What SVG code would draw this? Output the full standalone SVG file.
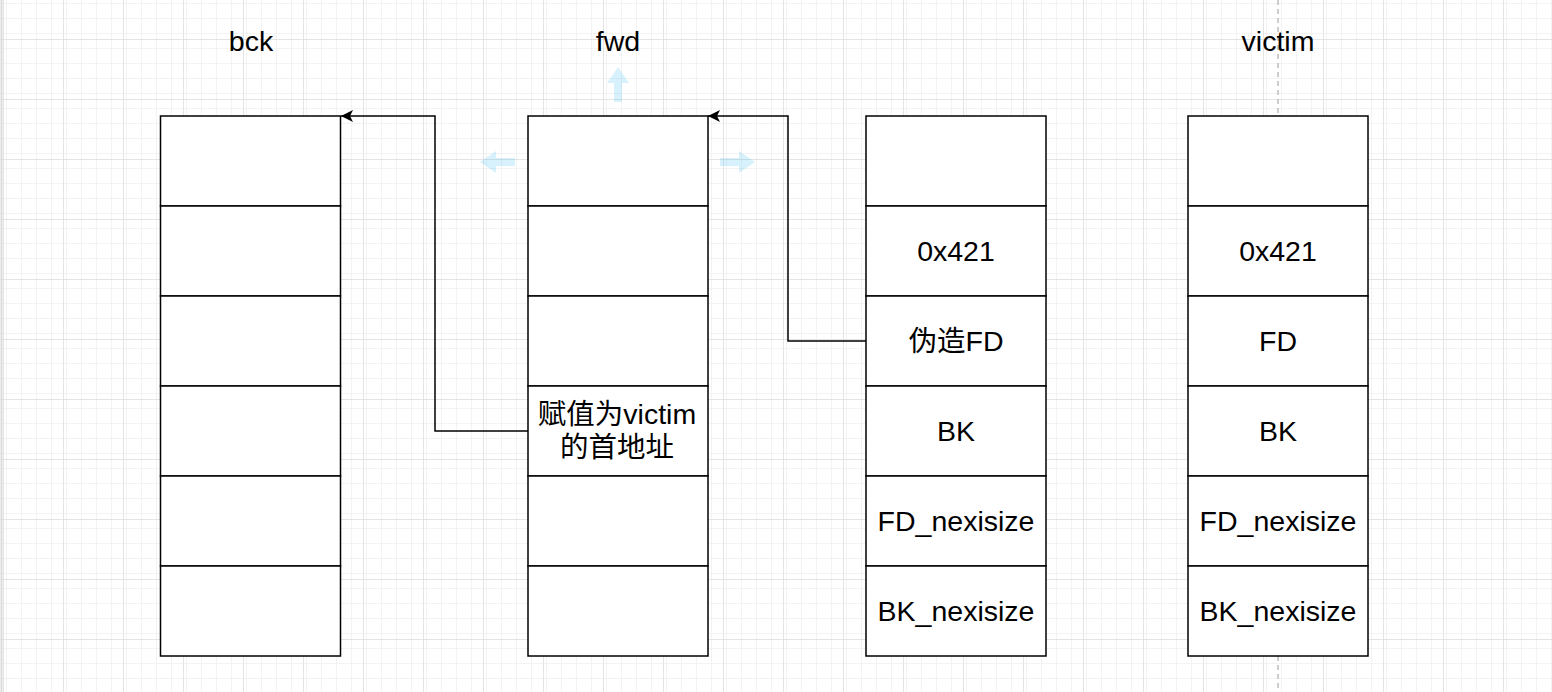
<svg xmlns="http://www.w3.org/2000/svg" width="1552" height="692" viewBox="0 0 1552 692">
<style>
  .cell { fill: #ffffff; stroke: #000000; stroke-width: 1.5; }
  .txt { font-family: "Liberation Sans", Arial, "Noto Sans CJK SC", sans-serif; font-size: 28.5px; fill: #000000; text-anchor: middle; }
  .conn { fill: none; stroke: #000000; stroke-width: 1.5; }
  .hint { fill: #29b6f2; fill-opacity: 0.18; }
  .guide { stroke: #bdbdbd; stroke-width: 1.5; stroke-dasharray: 5 4; }
</style>
<defs>
  <pattern id="minor" width="15" height="15" patternUnits="userSpaceOnUse" x="3" y="9">
    <path d="M0 0V15M0 0H15" fill="none" stroke="#f0f0f0" stroke-width="1.5"/>
  </pattern>
  <pattern id="major" width="60" height="60" patternUnits="userSpaceOnUse" x="3" y="39">
    <rect width="60" height="60" fill="url(#minor)"/>
    <path d="M0 0V60M0 0H60" fill="none" stroke="#dcdcdc" stroke-width="1.5"/>
  </pattern>
  <marker id="arrow" markerWidth="14" markerHeight="14" refX="12" refY="7" orient="auto" markerUnits="userSpaceOnUse">
    <path d="M12 7L0 1L3 7L0 13Z" fill="#000000"/>
  </marker>
</defs>
<rect width="1552" height="692" fill="#ffffff"/>
<rect width="1552" height="692" fill="url(#major)"/>
<line x1="1.5" y1="0" x2="1.5" y2="692" stroke="#dcdcdc" stroke-width="2"/>

<g id="guides">
  <line class="guide" x1="1278" y1="0" x2="1278" y2="116"/>
  <line class="guide" x1="1278" y1="656" x2="1278" y2="692"/>
</g>

<g id="hover-arrows">
  <path class="hint" d="M618 67L629 83H622V102H614V83H607Z"/>
  <path class="hint" d="M480 162L496 151V158H515V166H496V173Z"/>
  <path class="hint" d="M755 162L739 151V158H720V166H739V173Z"/>
</g>

<g id="title-bck"><text class="txt" x="251" y="51">bck</text></g>
<g id="title-fwd"><text class="txt" x="618" y="51">fwd</text></g>
<g id="title-victim"><text class="txt" x="1278" y="51">victim</text></g>

<g id="bck">
  <rect class="cell" x="160.5" y="116" width="180" height="90"/>
  <rect class="cell" x="160.5" y="206" width="180" height="90"/>
  <rect class="cell" x="160.5" y="296" width="180" height="90"/>
  <rect class="cell" x="160.5" y="386" width="180" height="90"/>
  <rect class="cell" x="160.5" y="476" width="180" height="90"/>
  <rect class="cell" x="160.5" y="566" width="180" height="90"/>
</g>

<g id="fwd">
  <rect class="cell" x="528" y="116" width="180" height="90"/>
  <rect class="cell" x="528" y="206" width="180" height="90"/>
  <rect class="cell" x="528" y="296" width="180" height="90"/>
  <rect class="cell" x="528" y="386" width="180" height="90"/>
  <text class="txt" x="617" y="424">赋值为victim</text>
  <text class="txt" x="617" y="457">的首地址</text>
  <rect class="cell" x="528" y="476" width="180" height="90"/>
  <rect class="cell" x="528" y="566" width="180" height="90"/>
</g>

<g id="fake">
  <rect class="cell" x="866" y="116" width="180" height="90"/>
  <rect class="cell" x="866" y="206" width="180" height="90"/>
  <text class="txt" x="956" y="261">0x421</text>
  <rect class="cell" x="866" y="296" width="180" height="90"/>
  <text class="txt" x="956" y="351">伪造FD</text>
  <rect class="cell" x="866" y="386" width="180" height="90"/>
  <text class="txt" x="956" y="441">BK</text>
  <rect class="cell" x="866" y="476" width="180" height="90"/>
  <text class="txt" x="956" y="531">FD_nexisize</text>
  <rect class="cell" x="866" y="566" width="180" height="90"/>
  <text class="txt" x="956" y="621">BK_nexisize</text>
</g>

<g id="victim">
  <rect class="cell" x="1188" y="116" width="180" height="90"/>
  <rect class="cell" x="1188" y="206" width="180" height="90"/>
  <text class="txt" x="1278" y="261">0x421</text>
  <rect class="cell" x="1188" y="296" width="180" height="90"/>
  <text class="txt" x="1278" y="351">FD</text>
  <rect class="cell" x="1188" y="386" width="180" height="90"/>
  <text class="txt" x="1278" y="441">BK</text>
  <rect class="cell" x="1188" y="476" width="180" height="90"/>
  <text class="txt" x="1278" y="531">FD_nexisize</text>
  <rect class="cell" x="1188" y="566" width="180" height="90"/>
  <text class="txt" x="1278" y="621">BK_nexisize</text>
</g>

<g id="connectors">
  <path class="conn" d="M528 431H435V116H341" marker-end="url(#arrow)"/>
  <path class="conn" d="M866 341H788V116H708" marker-end="url(#arrow)"/>
</g>
</svg>
